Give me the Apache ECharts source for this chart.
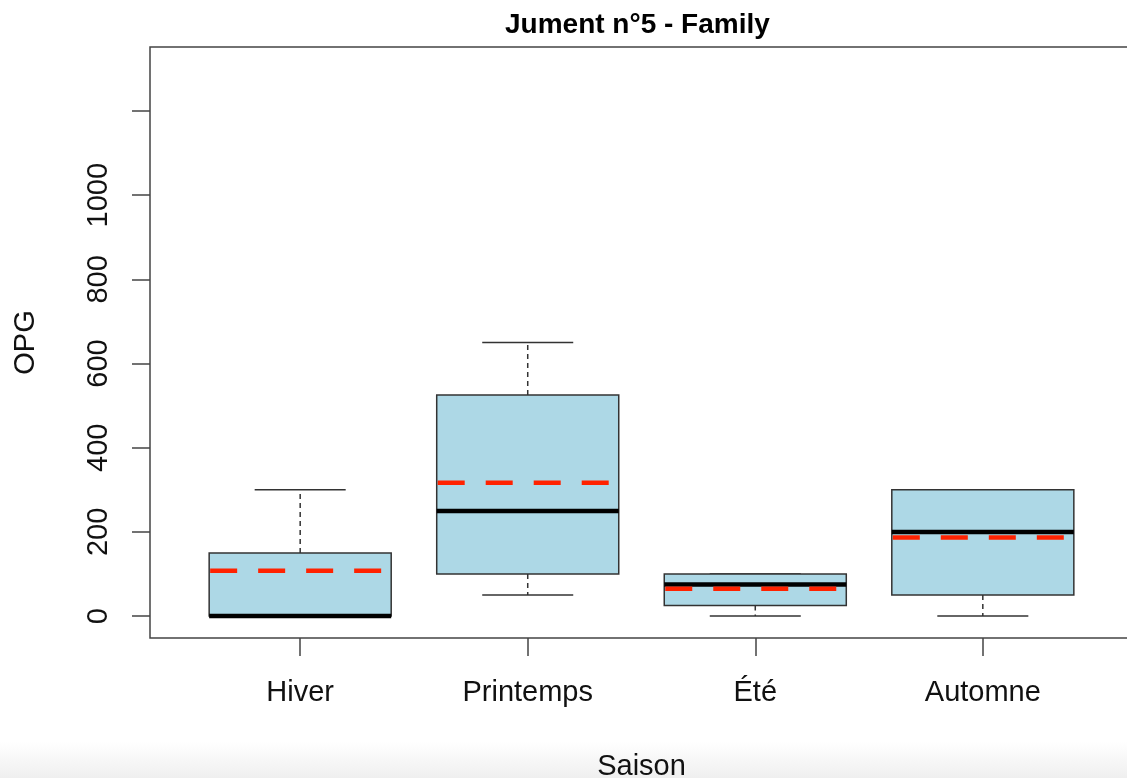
<!DOCTYPE html>
<html>
<head>
<meta charset="utf-8">
<script src="https://cdn.jsdelivr.net/npm/echarts@6/dist/echarts.min.js"></script>
<style>
html,body{margin:0;padding:0;background:#fff;}
#chart{width:1127px;height:778px;}
</style>
</head>
<body>
<div id="chart"></div>
<script>
const categories = ['Hiver', 'Printemps', 'Été', 'Automne'];
const whiskerLow  = [0, 50, 0, 0];
const q1          = [0, 100, 25, 50];
const median      = [0, 250, 75, 200];
const q3          = [150, 525, 100, 300];
const whiskerHigh = [300, 650, 100, 300];
const mean        = [108, 317, 65, 187];
const yTickValues  = [0, 200, 400, 600, 800, 1000, 1200];
const yLabelValues = [0, 200, 400, 600, 800, 1000];
const xTickValues  = [1, 2, 3, 4];

const FONT = '"Liberation Sans", Arial, Helvetica, sans-serif';
const data = categories.map((c, i) => [i + 1, whiskerLow[i], q1[i], median[i], q3[i], whiskerHigh[i], mean[i]]);

const BOX_HALF = 0.4, STAPLE_HALF = 0.2;
const EDGE = '#333';

function renderItem(params, api) {
  const x = api.value(0);
  const lo = api.value(1), a = api.value(2), m = api.value(3), b = api.value(4), hi = api.value(5), mu = api.value(6);
  const P = (xx, yy) => api.coord([xx, yy]);
  const L = P(x - BOX_HALF, 0)[0], R = P(x + BOX_HALF, 0)[0];
  const cx = P(x, 0)[0];
  const sL = P(x - STAPLE_HALF, 0)[0], sR = P(x + STAPLE_HALF, 0)[0];
  const yA = P(x, a)[1], yB = P(x, b)[1], yM = P(x, m)[1], yLo = P(x, lo)[1], yHi = P(x, hi)[1], yMu = P(x, mu)[1];
  const children = [];
  children.push({type:'line', shape:{x1:cx, y1:yB, x2:cx, y2:yHi}, style:{stroke:EDGE, lineWidth:1.5, lineDash:[5,4]}});
  children.push({type:'line', shape:{x1:cx, y1:yA, x2:cx, y2:yLo}, style:{stroke:EDGE, lineWidth:1.5, lineDash:[5,4]}});
  children.push({type:'line', shape:{x1:sL, y1:yHi, x2:sR, y2:yHi}, style:{stroke:EDGE, lineWidth:1.5}});
  children.push({type:'line', shape:{x1:sL, y1:yLo, x2:sR, y2:yLo}, style:{stroke:EDGE, lineWidth:1.5}});
  children.push({type:'rect', shape:{x:L, y:yB, width:R - L, height:yA - yB}, style:{fill:'#add8e6', stroke:EDGE, lineWidth:1.5}});
  children.push({type:'line', shape:{x1:L, y1:yM, x2:R, y2:yM}, style:{stroke:'#000', lineWidth:4.5}});
  children.push({type:'line', shape:{x1:L + 1, y1:yMu, x2:R - 1, y2:yMu}, style:{stroke:'#ff2200', lineWidth:4.5, lineDash:[27,21], lineCap:'butt'}});
  return {type:'group', children};
}

const chart = echarts.init(document.getElementById('chart'), null, {renderer:'canvas'});
chart.setOption({
  backgroundColor: '#fff',
  animation: false,
  title: {
    text: 'Jument n°5 - Family',
    left: 500, top: 6,
    textStyle: {fontFamily: FONT, fontSize: 28, fontWeight: 'bold', color: '#000'}
  },
  grid: {left: 150, top: 47, right: -6, bottom: 140, outerBoundsMode: 'none', containLabel: false,
    show: true, borderColor: '#444', borderWidth: 1.5, backgroundColor: 'transparent'},
  xAxis: {
    type: 'value', min: 0.34, max: 4.66,
    name: 'Saison', nameLocation: 'middle', nameGap: 114,
    nameTextStyle: {fontFamily: FONT, fontSize: 29, color: '#111'},
    axisLine: {show: false, onZero: false},
    splitLine: {show: false},
    axisTick: {show: true, length: 18, lineStyle: {color: '#444', width: 1.5}, customValues: xTickValues},
    axisLabel: {fontFamily: FONT, fontSize: 29, color: '#111', margin: 40, customValues: xTickValues,
      formatter: v => categories[Math.round(v) - 1] || ''}
  },
  yAxis: {
    type: 'value', min: -52, max: 1352,
    name: 'OPG', nameLocation: 'middle', nameGap: 110, nameRotate: 90,
    nameTextStyle: {fontFamily: FONT, fontSize: 29, color: '#111'},
    axisLine: {show: false, onZero: false},
    splitLine: {show: false},
    axisTick: {show: true, length: 18, lineStyle: {color: '#444', width: 1.5}, customValues: yTickValues},
    axisLabel: {fontFamily: FONT, fontSize: 29, color: '#111', rotate: 90, margin: 37, customValues: yLabelValues,
      formatter: v => String(v)}
  },
  graphic: [{
    type: 'rect', left: 0, top: 742, z: -10,
    shape: {width: 1127, height: 36},
    style: {fill: new echarts.graphic.LinearGradient(0, 0, 0, 1, [{offset: 0, color: '#ffffff'}, {offset: 1, color: '#efefef'}])}
  }],
  series: [{
    type: 'custom',
    renderItem: renderItem,
    data: data,
    encode: {x: 0, y: [1, 2, 3, 4, 5, 6]},
    clip: false
  }]
});
</script>
</body>
</html>
